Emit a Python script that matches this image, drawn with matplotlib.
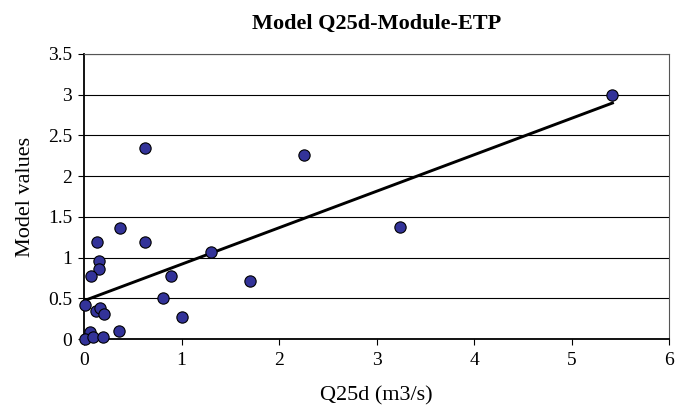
import numpy as np
import matplotlib
matplotlib.use("Agg")
import matplotlib.pyplot as plt

plt.rcParams['font.family'] = ['Liberation Serif', 'DejaVu Serif']

# observed Q25d (m3/s) and model values
q25d = [5.42, 0.63, 2.26, 3.24, 0.37, 0.13, 0.63, 0.15, 0.15, 0.07, 1.30, 0.89,
        1.70, 0.81, 1.00, 0.015, 0.12, 0.165, 0.21, 0.36, 0.065, 0.01, 0.09, 0.19]
model = [3.00, 2.35, 2.26, 1.38, 1.36, 1.195, 1.195, 0.96, 0.86, 0.775, 1.07, 0.775,
         0.71, 0.50, 0.27, 0.42, 0.35, 0.38, 0.31, 0.10, 0.09, 0.0, 0.02, 0.02]

# linear trend as drawn in the original (intercept, slope)
trend_b = 0.47
trend_a = 0.448

fig = plt.figure(figsize=(6.82, 4.11), dpi=100)
ax = fig.add_axes([84/682, 1-339/411, (669-84)/682, (339-54)/411])

ax.set_xlim(0, 6)
ax.set_ylim(0, 3.5)
ax.set_yticks(np.arange(0, 3.51, 0.5))
ax.set_yticklabels(['0', '0.5', '1', '1.5', '2', '2.5', '3', '3.5'])
ax.set_xticks(range(0, 7))
ax.grid(axis='y', color='black', linewidth=0.8)
ax.set_axisbelow(True)

for s in ax.spines.values():
    s.set_linewidth(0.8)
    s.set_color('#555555')
ax.spines['left'].set_color('black')
ax.spines['bottom'].set_color('black')
ax.spines['left'].set_linewidth(1.3)
ax.spines['bottom'].set_linewidth(1.3)

ax.tick_params(direction='out', length=4.5, width=0.8, labelsize=14)
ax.tick_params(axis='x', pad=4.5)
ax.tick_params(axis='y', pad=4)

xs = np.array([0, max(q25d)])
ax.plot(xs, trend_b + trend_a*xs, color='black', linewidth=2.1, zorder=3)
ax.scatter(q25d, model, s=66, color='#333399', edgecolors='black', linewidths=0.8,
           zorder=4, clip_on=False)

ax.set_title('Model Q25d-Module-ETP', fontsize=16, fontweight='bold', pad=18)
ax.set_xlabel('Q25d (m3/s)', fontsize=16, labelpad=13)
ax.set_ylabel('Model values', fontsize=16, labelpad=9)

fig.savefig('out.png', dpi=100)
